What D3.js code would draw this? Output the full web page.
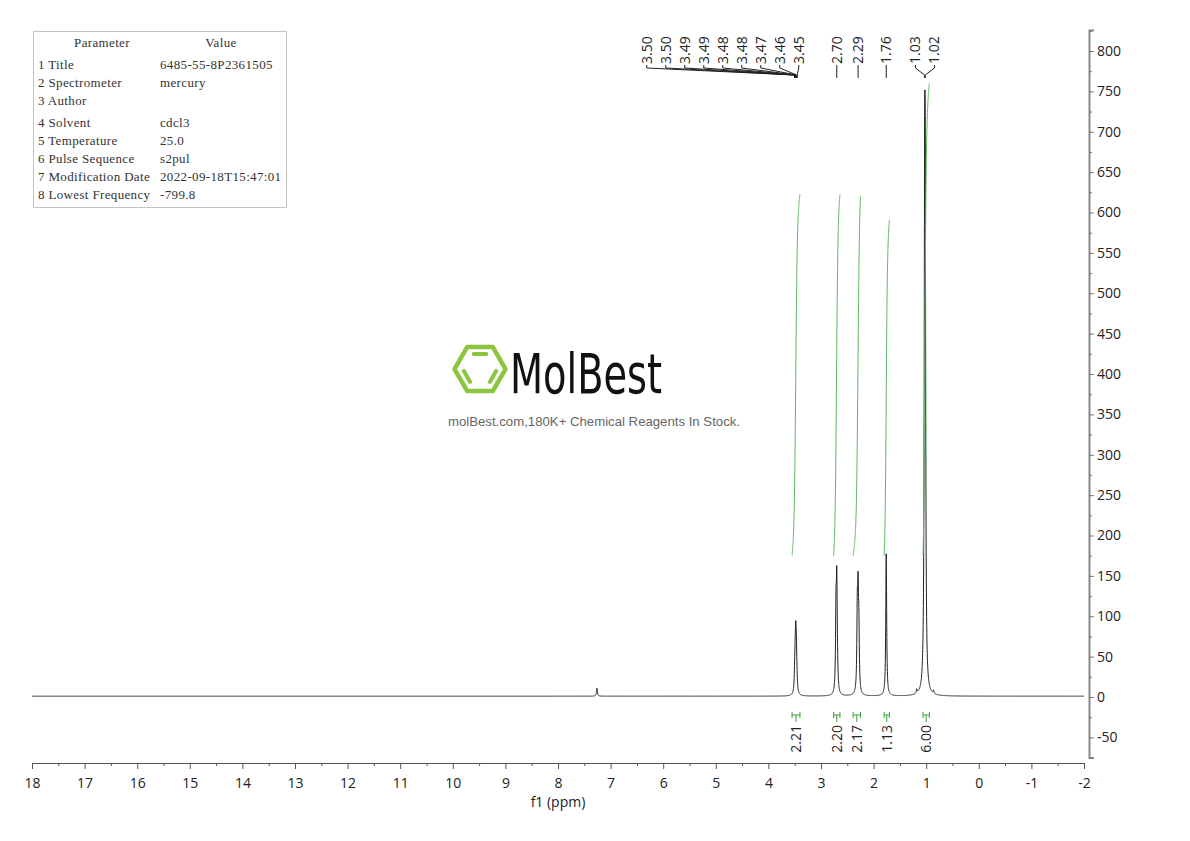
<!DOCTYPE html>
<html><head><meta charset="utf-8">
<script src="https://cdn.jsdelivr.net/npm/d3@7"></script>
<style>
body{margin:0;background:#fff}
svg{display:block}
text{font-family:"Open Sans",sans-serif}
text.serif{font-family:"Liberation Serif",serif}
</style>
</head><body>
<svg id="c" width="1190" height="841"></svg>
<script>
// ---------------- DATA ----------------
const xTickValues = [18,17,16,15,14,13,12,11,10,9,8,7,6,5,4,3,2,1,0,-1,-2];
const yTickValues = [-50,0,50,100,150,200,250,300,350,400,450,500,550,600,650,700,750,800];

// peak list (ppm, intensity)
const peakPpm    = [7.26, 3.50,3.49,3.48,3.47,3.46, 2.715,2.700,2.685, 2.310,2.295,2.280, 1.760, 1.180, 1.030,1.018, 0.860];
const peakHeight = [10,   18,  32,  52,  38,  15,   93,   128,  15,    93,   105,  68,    176,   5,     510,  510,   4];
const lineHalfWidth = 0.01;
const baselineLevel = 1;

const peakLabelText = ["3.50","3.50","3.49","3.49","3.48","3.48","3.47","3.46","3.45","2.70","2.29","1.76","1.03","1.02"];
const peakLabelPpm  = [3.503,3.498,3.492,3.487,3.482,3.477,3.470,3.462,3.453,2.700,2.295,1.760,1.030,1.018];

const integralFrom  = [3.55, 2.76, 2.39, 1.80, 1.06];
const integralTo    = [3.40, 2.64, 2.25, 1.70, 0.94];
const integralText  = ["2.21","2.20","2.17","1.13","6.00"];
const integralCurveBottom = [175,175,175,175,175];
const integralCurveTop    = [623,622,620,591,760];
const integralSmoothing   = 0.018;

const paramHeader = ["Parameter","Value"];
const paramNames  = ["1 Title","2 Spectrometer","3 Author","4 Solvent","5 Temperature","6 Pulse Sequence","7 Modification Date","8 Lowest Frequency"];
const paramValues = ["6485-55-8P2361505","mercury","","cdcl3","25.0","s2pul","2022-09-18T15:47:01","-799.8"];

// ---------------- SETUP ----------------
const svg = d3.select("#c");
const x = d3.scaleLinear().domain([18,-2]).range([32,1084]);
const y = d3.scaleLinear().domain([0,800]).range([697,51]);
const green = "#3f9f3f";

function spec(p){
  let v = baselineLevel;
  for (let i=0;i<peakPpm.length;i++){
    const d = (p-peakPpm[i])/lineHalfWidth;
    v += peakHeight[i]/(1+d*d);
  }
  return v;
}

// ---------------- LOGO (watermark) ----------------
(function(){
  const cx=480, cy=369, R=25.5;
  const V = d3.range(6).map(k=>[cx+R*Math.cos(k*Math.PI/3), cy+R*Math.sin(k*Math.PI/3)]);
  svg.append("polygon").attr("points",V.map(v=>v.join(",")).join(" "))
    .attr("fill","none").attr("stroke","#8cc63f").attr("stroke-width",4.5).attr("stroke-linejoin","round");
  const edges=[[4,5],[0,1],[2,3]];
  edges.forEach(([a,b])=>{
    const f=0.68, t=0.14;
    const A=[cx+(V[a][0]-cx)*f, cy+(V[a][1]-cy)*f], B=[cx+(V[b][0]-cx)*f, cy+(V[b][1]-cy)*f];
    const P=[A[0]+(B[0]-A[0])*t, A[1]+(B[1]-A[1])*t], Q=[B[0]+(A[0]-B[0])*t, B[1]+(A[1]-B[1])*t];
    svg.append("line").attr("x1",P[0]).attr("y1",P[1]).attr("x2",Q[0]).attr("y2",Q[1])
      .attr("stroke","#8cc63f").attr("stroke-width",4).attr("stroke-linecap","round");
  });
  svg.append("text").attr("x",510).attr("y",393).attr("font-size",56)
    .style("font-family","'DejaVu Sans'").style("font-stretch","condensed")
    .attr("textLength",152).attr("lengthAdjust","spacingAndGlyphs").attr("fill","#111").text("MolBest");
  svg.append("text").attr("x",448).attr("y",426).attr("font-size",13)
    .style("font-family","'Liberation Sans',Arial,sans-serif")
    .attr("textLength",292).attr("lengthAdjust","spacingAndGlyphs").attr("fill","#666")
    .text("molBest.com,180K+ Chemical Reagents In Stock.");
})();

// ---------------- PARAMETER TABLE ----------------
(function(){
  const g = svg.append("g");
  g.append("rect").attr("x",33.5).attr("y",31.5).attr("width",253).attr("height",176)
    .attr("fill","#fff").attr("stroke","#c4c4c4");
  const t = (xx,yy,s,anchor)=>g.append("text").attr("class","serif").attr("x",xx).attr("y",yy)
    .attr("text-anchor",anchor||"start").attr("font-size",13).attr("letter-spacing",0.35).attr("fill","#333").text(s);
  t(102,47,paramHeader[0],"middle");
  t(221,47,paramHeader[1],"middle");
  paramNames.forEach((n,i)=>{
    const yy = 69 + i*18 + (i>=3?4:0);
    t(38,yy,n);
    t(160,yy,paramValues[i]);
  });
})();

// ---------------- SPECTRUM ----------------
const grid = d3.range(18, -2.0001, -0.002).concat(peakPpm).sort((a,b)=>b-a);
const specData = grid.map(p=>[p, spec(p)]);
svg.append("path").datum(specData)
  .attr("d", d3.line().x(d=>x(d[0])).y(d=>y(d[1])))
  .attr("fill","none").attr("stroke","#222").attr("stroke-width",1);

// ---------------- INTEGRAL CURVES ----------------
integralFrom.forEach((a,i)=>{
  const b = integralTo[i], w = integralSmoothing;
  const inside = peakPpm.map((p,k)=>k).filter(k=>peakPpm[k]<=a && peakPpm[k]>=b);
  const F = p => d3.sum(inside, k => peakHeight[k]*(Math.atan((a-peakPpm[k])/w) - Math.atan((p-peakPpm[k])/w)));
  const tot = F(b);
  const data = d3.range(a, b-0.00001, -0.001).map(p=>[p, integralCurveBottom[i] + (F(p)/tot)*(integralCurveTop[i]-integralCurveBottom[i])]);
  svg.append("path").datum(data)
    .attr("d", d3.line().x(d=>x(d[0])).y(d=>y(d[1])))
    .attr("fill","none").attr("stroke","#5cb85c").attr("stroke-width",1);
});

// ---------------- INTEGRAL LABELS ----------------
integralFrom.forEach((a,i)=>{
  const x1=x(a), x2=x(integralTo[i]), xc=(x1+x2)/2, yb=715;
  svg.append("path").attr("d",`M${x1},${yb-3}V${yb+3}M${x1},${yb}H${x2}M${x2},${yb-3}V${yb+3}M${xc},${yb}V${yb+7}`)
    .attr("fill","none").attr("stroke",green).attr("stroke-width",1);
  svg.append("text").attr("transform",`translate(${xc},${yb+10}) rotate(-90)`)
    .attr("text-anchor","end").attr("dy","0.35em").attr("font-size",14).attr("fill","#222")
    .text(integralText[i]);
});

// ---------------- PEAK LABELS ----------------
(function(){
  const gap=19;
  const desired = peakLabelPpm.map(p=>x(p));
  const n = desired.length, lx = desired.slice();
  for (let i=n-2;i>=0;i--) lx[i] = Math.min(desired[i], lx[i+1]-gap);
  const clusters=[]; let i=0;
  while(i<n){ let j=i; while(j+1<n && lx[j+1]-lx[j] < gap+0.5) j++; clusters.push([i,j]); i=j+1; }
  for (let c=clusters.length-1;c>=0;c--){
    const [a,b]=clusters[c]; if(a===b) continue;
    const dm=d3.mean(desired.slice(a,b+1)), cm=d3.mean(lx.slice(a,b+1));
    let shift=Math.max(0, dm-cm);
    if(b+1<n) shift=Math.min(shift, Math.max(0, lx[b+1]-2*gap-lx[b]));
    for(let k=a;k<=b;k++) lx[k]+=shift;
  }
  const g=svg.append("g");
  peakLabelText.forEach((t,k)=>{
    g.append("text").attr("transform",`translate(${lx[k]},64) rotate(-90)`)
      .attr("dy","0.35em").attr("font-size",14).attr("fill","#222").text(t);
    g.append("path").attr("d",`M${lx[k]},65V68L${desired[k]},75V78`)
      .attr("fill","none").attr("stroke","#222").attr("stroke-width",1);
  });
})();

// ---------------- AXES ----------------
const xAxisG = svg.append("g").attr("transform","translate(0,763)");
xAxisG.call(d3.axisBottom(x).tickValues(xTickValues).tickSize(6).tickPadding(9).tickFormat(d=>String(d)));
xAxisG.append("g").call(d3.axisBottom(x).tickValues(xTickValues.slice(0,-1).map(v=>v-0.5)).tickSize(3).tickFormat(""))
  .select(".domain").remove();
xAxisG.selectAll("path.domain").attr("stroke","#555");
xAxisG.selectAll("line").attr("stroke","#555");
xAxisG.selectAll("text").attr("font-size",14).attr("fill","#222").style("font-family","'Open Sans',sans-serif");

svg.append("text").attr("x",558).attr("y",807).attr("text-anchor","middle").attr("font-size",14).attr("fill","#222").text("f1 (ppm)");

const yAx = y.copy().domain([-75,826]).range([y(-75), y(826)]);
const yAxisG = svg.append("g").attr("transform","translate(1089,0)");
yAxisG.call(d3.axisRight(yAx).tickValues(yTickValues).tickSize(5).tickPadding(3).tickFormat(d=>String(d)));
yAxisG.append("g").call(d3.axisRight(yAx).tickValues(yTickValues.map(v=>v+25).concat([-75])).tickSize(3).tickFormat(""))
  .select(".domain").remove();
yAxisG.selectAll("path.domain").attr("stroke","#888").attr("stroke-width",2);
yAxisG.selectAll("line").attr("stroke","#777");
yAxisG.selectAll("text").attr("font-size",14).attr("fill","#222").style("font-family","'Open Sans',sans-serif");
</script>
</body></html>
